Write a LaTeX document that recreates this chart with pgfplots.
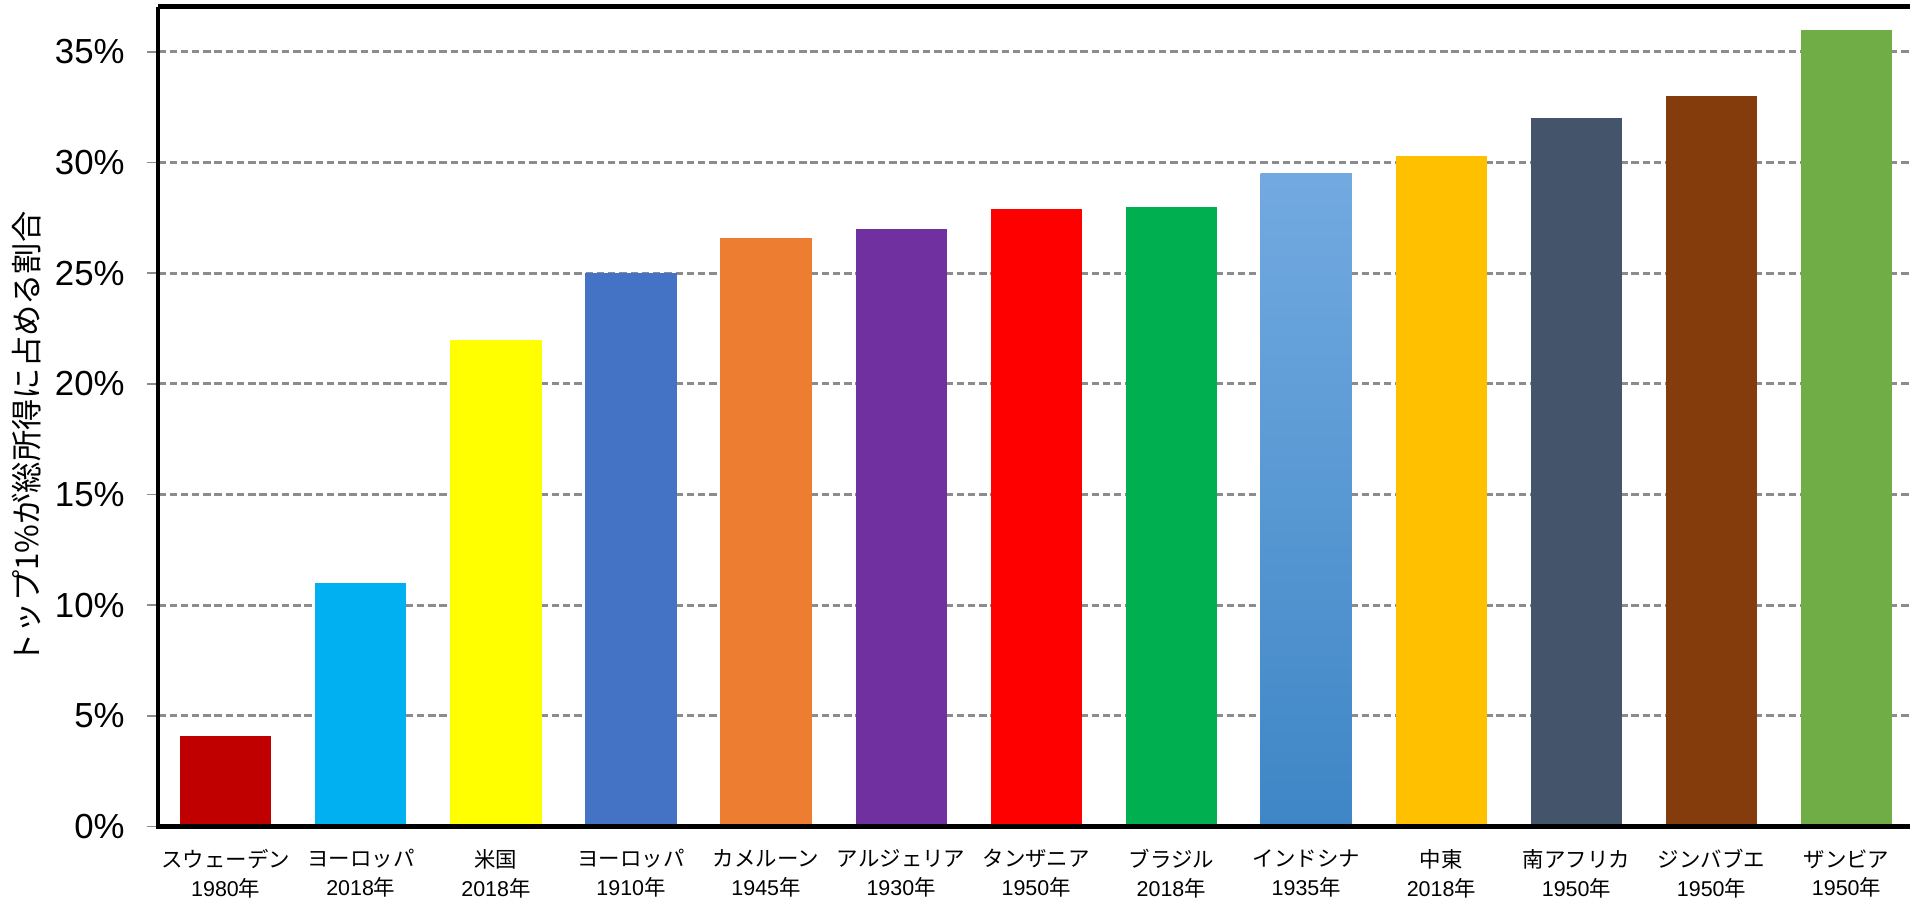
\documentclass[border=0pt]{standalone}
\usepackage{fontspec}
\setmainfont{Liberation Sans}
\newfontfamily\jp{Noto Sans CJK JP}
\usepackage{pgfplots}
\pgfplotsset{compat=1.18}

\definecolor{c1}{HTML}{C00000}
\definecolor{c2}{HTML}{00B0F0}
\definecolor{c3}{HTML}{FFFF00}
\definecolor{c4}{HTML}{4472C4}
\definecolor{c5}{HTML}{ED7D31}
\definecolor{c6}{HTML}{7030A0}
\definecolor{c7}{HTML}{FF0000}
\definecolor{c8}{HTML}{00B050}
\definecolor{c9top}{HTML}{72AAE0}
\definecolor{c9bot}{HTML}{3E86C6}
\definecolor{c10}{HTML}{FFC000}
\definecolor{c11}{HTML}{44546A}
\definecolor{c12}{HTML}{843C0C}
\definecolor{c13}{HTML}{70AD47}
\definecolor{gridgray}{HTML}{8C8C8C}

\begin{document}
\begin{tikzpicture}
\begin{axis}[
  scale only axis,
  width=17.52cm, height=8.20cm,
  xmin=-0.5, xmax=12.47,
  ymin=0, ymax=37.04,
  clip=false,
  axis line style={draw=none},
  ytick={0,5,...,35},
  yticklabel={\pgfmathprintnumber{\tick}\%},
  /pgf/number format/assume math mode=true,
  yticklabel style={font=\fontsize{9.9}{11}\selectfont, anchor=east, inner sep=0pt, xshift=-0.22cm},
  ytick pos=left,
  xtick={0,...,12},
  xtick pos=bottom,
  xticklabels={
    {{\jp スウェーデン}\\1980{\jp 年}},
    {{\jp ヨーロッパ}\\2018{\jp 年}},
    {{\jp 米国}\\2018{\jp 年}},
    {{\jp ヨーロッパ}\\1910{\jp 年}},
    {{\jp カメルーン}\\1945{\jp 年}},
    {{\jp アルジェリア}\\1930{\jp 年}},
    {{\jp タンザニア}\\1950{\jp 年}},
    {{\jp ブラジル}\\2018{\jp 年}},
    {{\jp インドシナ}\\1935{\jp 年}},
    {{\jp 中東}\\2018{\jp 年}},
    {{\jp 南アフリカ}\\1950{\jp 年}},
    {{\jp ジンバブエ}\\1950{\jp 年}},
    {{\jp ザンビア}\\1950{\jp 年}}},
  xticklabel style={font=\fontsize{6.1}{8.2}\selectfont, align=center, anchor=center, inner sep=0pt, yshift=-0.36cm},
  x tick style={draw=none},
  y tick style={gridgray, line width=0.5pt},
  tick align=outside,
  major tick length=0.11cm,
  extra x ticks={-0.5,1.5,...,11.5},
  extra x tick labels={},
  extra x tick style={grid=none, tick style={draw=gridgray, line width=0.5pt}},
  ymajorgrids,
  grid style={gridgray, line width=0.8pt, dash pattern=on 2.1pt off 1.1pt},
  mybar/.style={ybar, bar width=0.675, bar shift=0pt, draw=none, fill=#1},
]
\addplot[mybar=c1] coordinates {(0,4.1)};
\addplot[mybar=c2] coordinates {(1,11.0)};
\addplot[mybar=c3] coordinates {(2,22.0)};
\addplot[mybar=c4] coordinates {(3,25.0)};
\addplot[mybar=c5] coordinates {(4,26.6)};
\addplot[mybar=c6] coordinates {(5,27.0)};
\addplot[mybar=c7] coordinates {(6,27.9)};
\addplot[mybar=c8] coordinates {(7,28.0)};
\addplot[ybar, bar width=0.675, bar shift=0pt, draw=none, top color=c9top, bottom color=c9bot] coordinates {(8,29.5)};
\addplot[mybar=c10] coordinates {(9,30.3)};
\addplot[mybar=c11] coordinates {(10,32.0)};
\addplot[mybar=c12] coordinates {(11,33.0)};
\addplot[mybar=c13] coordinates {(12,36.0)};
% axis frame: left, bottom and a heavy top line, no right line
\draw[line width=1.2pt] (rel axis cs:0,1) -- (rel axis cs:0,0) -- (rel axis cs:1,0);
\draw[line width=1.4pt] (rel axis cs:0,1) -- (rel axis cs:1,1);
\node[xshift=-1.318cm, yshift=3.886cm, rotate=90, font=\jp\fontsize{8.9}{10}\selectfont] at (rel axis cs:0,0) {トップ1\%が総所得に占める割合};
\end{axis}
\pgfresetboundingbox
\path[use as bounding box] (-1.583,-0.734) rectangle (17.52,8.266);
\end{tikzpicture}
\end{document}
